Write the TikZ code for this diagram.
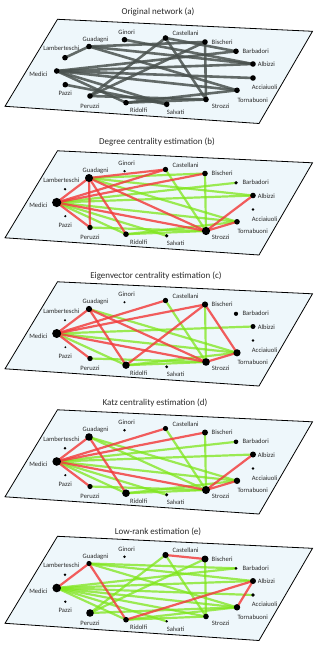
\documentclass[tikz,border=0pt]{standalone}
\usepackage{fontspec}
\setmainfont{Carlito}
\definecolor{planeblue}{HTML}{EEF7FB}
\definecolor{edgegray}{HTML}{4A524F}
\definecolor{edgered}{HTML}{F23A3A}
\definecolor{edgegreen}{HTML}{7FE61A}
\definecolor{txt}{HTML}{2A2A2A}
\pgfdeclarelayer{plane}
\pgfdeclarelayer{edges}
\pgfsetlayers{plane,edges,main}
\tikzset{
  planebox/.style={draw=black, line width=0.8pt, fill=planeblue},
  dot/.style={circle, fill=black, draw=none, inner sep=0pt, outer sep=0pt},
  lbl/.style={font=\fontsize{6.6}{7}\selectfont, text=txt, inner sep=0pt},
  ttl/.style={font=\fontsize{9}{10}\selectfont, text=txt, inner sep=0pt},
  grayedge/.style={draw=edgegray, line width=2.6pt, draw opacity=0.85},
  rededge/.style={draw=edgered, line width=2.2pt, draw opacity=0.82},
  greenedge/.style={draw=edgegreen, line width=2.2pt, draw opacity=0.75},
}
\newcommand\planeat[1]{\draw[planebox] (57.5,19.3+#1) -- (312.5,31.3+#1) -- (259,123.5+#1) -- (5,106.3+#1) -- cycle;}
\begin{document}
\begin{tikzpicture}[x=1pt,y=-1pt]
\useasboundingbox (0,0) rectangle (315,647);
% titles
\node[ttl, anchor=mid] (ta) at (158,12) {Original network (a)};
\node[ttl, anchor=mid] (tb) at (157,142.5) {Degree centrality estimation (b)};
\node[ttl, anchor=mid] (tc) at (156,276.5) {Eigenvector centrality estimation (c)};
\node[ttl, anchor=mid] (td) at (155,403.5) {Katz centrality estimation (d)};
\node[ttl, anchor=mid] (te) at (158,532) {Low-rank estimation (e)};
% planes
\begin{pgfonlayer}{plane}
\planeat{0}
\planeat{131.5}
\planeat{262.5}
\planeat{390.5}
\planeat{517}
\end{pgfonlayer}
% nodes and labels
\foreach \n/\x/\y/\ra/\rb/\rc/\rd/\re/\an/\lx/\ly in {
  Medici/56.7/71/2.8/4.6/4.5/4.3/4.3/mid east/47.7/74,
  Guadagni/89/46.5/2.8/4.0/3.1/3.8/2.6/mid/95.5/39,
  Strozzi/206/99.5/2.8/4.1/3.8/4.0/2.8/mid west/211.7/106,
  Ridolfi/126/102.7/2.8/2.8/3.7/3.8/2.8/mid west/130/110.3,
  Tornabuoni/237/90.3/2.8/2.8/3.6/3.2/3.2/mid west/237.3/99.7,
  Bischeri/205/42/2.8/2.8/3.1/3.0/3.5/mid west/211.5/41.7,
  Castellani/165.5/38/2.8/2.7/2.7/2.6/3.1/mid west/172.5/33.3,
  Peruzzi/90/96/2.8/2.7/2.7/2.6/3.8/mid/90/106,
  Albizzi/253/64/2.8/2.8/2.5/3.0/3.0/mid west/257.7/64.3,
  Barbadori/236/51.3/2.8/1.8/2.1/2.3/1.5/mid west/242.3/51,
  Salvati/166.7/104.3/2.8/1.8/1.6/1.7/1.3/mid west/166.7/111.7,
  Acciaiuoli/253/78/2.8/1.3/1.4/1.3/1.8/mid west/251.7/87.3,
  Lamberteschi/65/57.7/2.8/1.3/1.2/1.3/1.3/mid/61.3/48.3,
  Ginori/124.5/39.7/2.8/1.3/1.2/1.3/1.3/mid/126.7/31.7,
  Pazzi/65.3/84.7/2.8/1.2/1.0/1.2/1.3/mid/65.2/93.3}{
  \node[dot, minimum size={2*\ra*1pt}] (a-\n) at (\x,\y) {};
  \node[dot, minimum size={2*\rb*1pt}] (b-\n) at (\x,\y+131.5) {};
  \node[dot, minimum size={2*\rc*1pt}] (c-\n) at (\x,\y+262.5) {};
  \node[dot, minimum size={2*\rd*1pt}] (d-\n) at (\x,\y+390.5) {};
  \node[dot, minimum size={2*\re*1pt}] (e-\n) at (\x,\y+517) {};
  \node[lbl, anchor=\an] (a-\n-l) at (\lx,\ly) {\n};
  \node[lbl, anchor=\an] (b-\n-l) at (\lx,\ly+131.5) {\n};
  \node[lbl, anchor=\an] (c-\n-l) at (\lx,\ly+262.5) {\n};
  \node[lbl, anchor=\an] (d-\n-l) at (\lx,\ly+390.5) {\n};
  \node[lbl, anchor=\an] (e-\n-l) at (\lx,\ly+517) {\n};
}
\begin{pgfonlayer}{edges}
% (a) original network
\foreach \u/\v in {Acciaiuoli/Medici, Albizzi/Ginori, Albizzi/Guadagni, Albizzi/Medici,
  Barbadori/Castellani, Barbadori/Medici, Bischeri/Guadagni, Bischeri/Peruzzi,
  Bischeri/Strozzi, Castellani/Peruzzi, Castellani/Strozzi, Guadagni/Lamberteschi,
  Guadagni/Tornabuoni, Medici/Ridolfi, Medici/Salvati, Medici/Tornabuoni,
  Pazzi/Salvati, Peruzzi/Strozzi, Ridolfi/Strozzi, Ridolfi/Tornabuoni}
  \draw[grayedge] (a-\u.center) -- (a-\v.center);
% (b) degree
\foreach \u/\v in {Guadagni/Bischeri, Guadagni/Albizzi, Guadagni/Tornabuoni, Medici/Barbadori,
  Medici/Albizzi, Medici/Tornabuoni, Medici/Ridolfi, Medici/Salvati, Castellani/Strozzi,
  Bischeri/Strozzi, Peruzzi/Strozzi, Ridolfi/Strozzi, Ridolfi/Tornabuoni}
  \draw[greenedge] (b-\u.center) -- (b-\v.center);
\foreach \u/\v in {Guadagni/Medici, Guadagni/Castellani, Guadagni/Peruzzi, Guadagni/Ridolfi,
  Guadagni/Strozzi, Medici/Castellani, Medici/Bischeri, Medici/Peruzzi, Medici/Strozzi,
  Strozzi/Albizzi, Strozzi/Tornabuoni}
  \draw[rededge] (b-\u.center) -- (b-\v.center);
% (c) eigenvector
\foreach \u/\v in {Guadagni/Tornabuoni, Medici/Albizzi, Medici/Tornabuoni, Medici/Ridolfi,
  Castellani/Strozzi, Bischeri/Strozzi, Peruzzi/Strozzi, Ridolfi/Strozzi, Ridolfi/Tornabuoni}
  \draw[greenedge] (c-\u.center) -- (c-\v.center);
\foreach \u/\v in {Medici/Guadagni, Medici/Castellani, Medici/Bischeri, Medici/Peruzzi,
  Medici/Strozzi, Guadagni/Ridolfi, Guadagni/Strozzi, Ridolfi/Bischeri, Bischeri/Tornabuoni,
  Strozzi/Tornabuoni}
  \draw[rededge] (c-\u.center) -- (c-\v.center);
% (d) Katz
\foreach \u/\v in {Guadagni/Tornabuoni, Guadagni/Strozzi, Medici/Barbadori, Medici/Albizzi,
  Medici/Tornabuoni, Medici/Ridolfi, Medici/Salvati, Castellani/Strozzi, Bischeri/Strozzi,
  Peruzzi/Strozzi, Ridolfi/Strozzi, Ridolfi/Tornabuoni}
  \draw[greenedge] (d-\u.center) -- (d-\v.center);
\foreach \u/\v in {Medici/Guadagni, Medici/Castellani, Medici/Bischeri, Medici/Peruzzi,
  Medici/Strozzi, Guadagni/Ridolfi, Strozzi/Albizzi, Strozzi/Tornabuoni}
  \draw[rededge] (d-\u.center) -- (d-\v.center);
% (e) low-rank
\foreach \u/\v in {Guadagni/Barbadori, Guadagni/Albizzi, Guadagni/Tornabuoni, Castellani/Peruzzi,
  Castellani/Strozzi, Bischeri/Peruzzi, Bischeri/Strozzi, Medici/Barbadori, Medici/Albizzi,
  Medici/Acciaiuoli, Medici/Tornabuoni, Medici/Strozzi, Medici/Ridolfi, Medici/Salvati,
  Peruzzi/Tornabuoni, Ridolfi/Strozzi, Ridolfi/Tornabuoni}
  \draw[greenedge] (e-\u.center) -- (e-\v.center);
\foreach \u/\v in {Medici/Guadagni, Guadagni/Ridolfi, Castellani/Bischeri, Ridolfi/Albizzi,
  Albizzi/Tornabuoni}
  \draw[rededge] (e-\u.center) -- (e-\v.center);
\end{pgfonlayer}
\end{tikzpicture}
\end{document}
